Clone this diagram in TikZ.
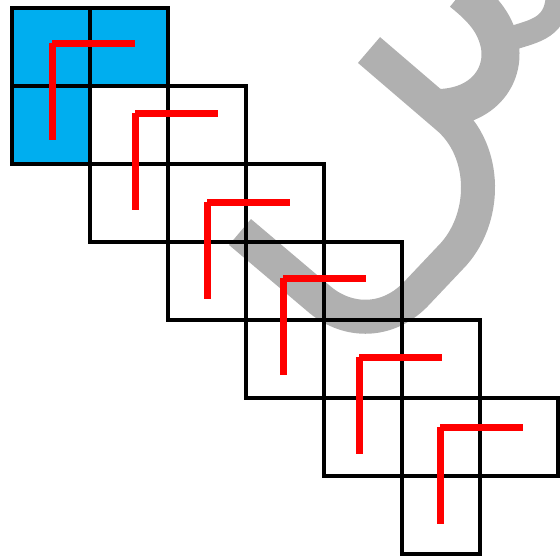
\documentclass[tikz,border=0pt]{standalone}
\definecolor{cyanblue}{RGB}{0,174,239}
\definecolor{wmgray}{RGB}{176,176,176}
\begin{document}
\begin{tikzpicture}[x=1pt,y=-1pt,
  cell/.style={draw=black,line width=4pt},
  bluecell/.style={fill=cyanblue},
  redL/.style={draw=red,line width=7pt},
  wm/.style={draw=wmgray,line width=34pt}]
\useasboundingbox (0,0) rectangle (560,560);
\begin{scope}
\clip (0,0) rectangle (560,560);
% watermark
\draw[wm] (240,232) -- (318,298) .. controls (345,322) and (385,325) .. (415,295)
  -- (450,258) .. controls (488,220) and (488,150) .. (446,116) -- (369,50);
\draw[wm,line width=38pt] (440,108) .. controls (488,106) and (508,70) .. (498,38)
  .. controls (492,18) and (478,5) .. (462,-8);
\draw[wm,line width=24pt] (495,45) .. controls (520,32) and (548,35) .. (556,8) -- (560,-12);
\end{scope}
% blue cells
\foreach \c/\r in {0/0,1/0,0/1}
  \fill[bluecell] ({12+78*\c},{8+78*\r}) rectangle +(78,78);
% grid cells
\foreach \c/\r in {0/0,1/0,0/1,1/1,2/1,1/2,2/2,3/2,2/3,3/3,4/3,3/4,4/4,5/4,4/5,5/5,6/5,5/6}
  \draw[cell] ({12+78*\c},{8+78*\r}) rectangle +(78,78);
% red L shapes
\foreach \x/\y in {52/43,135/113,207/202,283/278,359/357,440/427} {
  \draw[redL] (\x,\y) -- +(83,0);
  \draw[redL] (\x,\y) -- +(0,97);
}
\end{tikzpicture}
\end{document}
